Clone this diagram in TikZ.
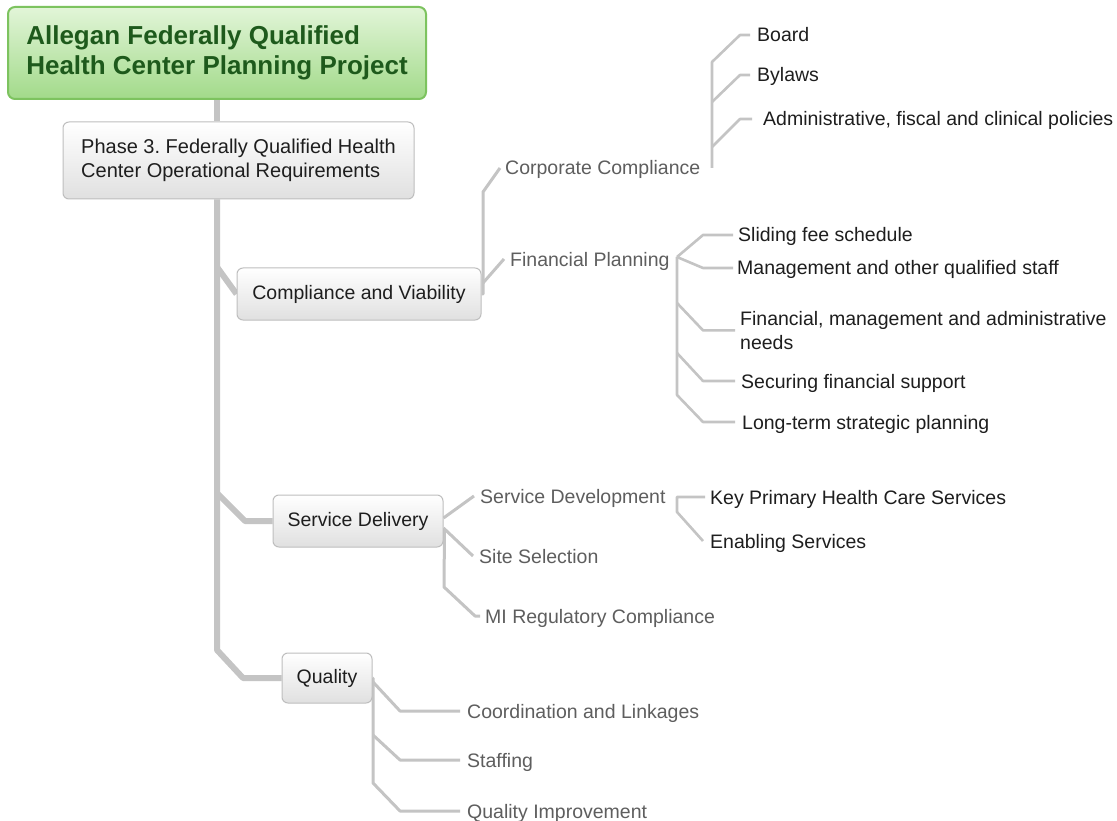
\documentclass[tikz,border=0pt]{standalone}
\usepackage{fontspec}
\setmainfont{Liberation Sans}
\usetikzlibrary{backgrounds}
\frenchspacing

\definecolor{linegray}{HTML}{C4C4C4}
\definecolor{roottop}{HTML}{E2F5D8}
\definecolor{rootbot}{HTML}{A2DA8A}
\definecolor{rootedge}{HTML}{7DC35F}
\definecolor{roottext}{HTML}{1E5A1C}
\definecolor{boxbot}{HTML}{E0E0E0}
\definecolor{boxedge}{HTML}{BEBEBE}
\definecolor{textdark}{HTML}{1E1E1E}
\definecolor{textgray}{HTML}{5E5E5E}

\begin{document}
\begin{tikzpicture}[x=1pt,y=-1pt,
  every node/.style={font=\fontsize{19.5}{24}\selectfont},
  rootbox/.style={draw=rootedge, line width=2pt, rounded corners=7pt,
    top color=roottop, bottom color=rootbot, inner sep=0pt, align=left,
    minimum width=418pt, minimum height=92pt, text=roottext,
    font=\fontsize{26}{30}\selectfont\bfseries},
  topicbox/.style={draw=boxedge, line width=1pt, rounded corners=6pt,
    top color=white, bottom color=boxbot, inner sep=0pt, text=textdark},
  sublabel/.style={inner sep=0pt, text height=14pt, text depth=0pt,
    anchor=west, text=textgray},
  leaflabel/.style={inner sep=0pt, text height=14pt, text depth=0pt,
    anchor=west, text=textdark},
  trunkline/.style={draw=linegray, line width=6pt, line join=round},
  branchline/.style={draw=linegray, line width=3pt, line join=round},
  leafline/.style={draw=linegray, line width=2.6pt, line join=round},
]
\useasboundingbox (0,0) rectangle (1117,821);

% main topics
\node[rootbox] (root) at (217,53)
  {Allegan Federally Qualified\\Health Center Planning Project};
\node[topicbox, align=left, minimum width=351pt, minimum height=77pt,
  font=\fontsize{20}{24}\selectfont] (phase) at (238.5,160.5)
  {Phase 3. Federally Qualified Health\\Center Operational Requirements};
\node[topicbox, minimum width=244pt, minimum height=52pt] (cv) at (359,294)
  {Compliance and Viability};
\node[topicbox, minimum width=170pt, minimum height=52pt] (sd) at (358,521)
  {Service Delivery};
\node[topicbox, minimum width=90pt, minimum height=50pt] (qual) at (327,678)
  {Quality};

% subtopics
\node[sublabel] (cc) at (505,168) {Corporate Compliance};
\node[sublabel] (fp) at (510,259) {Financial Planning};
\node[sublabel] (sdev) at (480,496) {Service Development};
\node[sublabel] (site) at (479,556) {Site Selection};
\node[sublabel] (mireg) at (485,616) {MI Regulatory Compliance};
\node[sublabel] (coord) at (467,711) {Coordination and Linkages};
\node[sublabel] (staff) at (467,760) {Staffing};
\node[sublabel] (qimp) at (467,811) {Quality Improvement};

% details
\node[leaflabel] (board) at (757,35) {Board};
\node[leaflabel] (bylaws) at (757,75) {Bylaws};
\node[leaflabel] (policies) at (763,119) {Administrative, fiscal and clinical policies};
\node[leaflabel] (sliding) at (738,235) {Sliding fee schedule};
\node[leaflabel] (mgmt) at (737,268) {Management and other qualified staff};
\node[inner sep=0pt, anchor=north west, align=left, text=textdark] (finneeds)
  at (740,311) {Financial, management and administrative\\needs};
\node[leaflabel] (securing) at (741,381) {Securing financial support};
\node[leaflabel] (longterm) at (742,422) {Long-term strategic planning};
\node[leaflabel] (keyphc) at (710,497) {Key Primary Health Care Services};
\node[leaflabel] (enabling) at (710,541) {Enabling Services};

\begin{scope}[on background layer]
  \fill[white] (0,0) rectangle (1117,821);

  % trunk and main branches
  \draw[trunkline] (root.south) -- (root.south |- phase.north);
  \draw[trunkline] (root.south |- phase.south) -- (217,650) -- (243,678) -- (qual.west);
  \draw[trunkline] (217,267) -- (cv.west);
  \draw[trunkline] (217,493) -- (245,521) -- (sd.west);

  % compliance and viability
  \draw[branchline] (cv.east) -| (483,192) -- ([xshift=-5pt]cc.west);
  \draw[branchline] (483,283) -- ([xshift=-6pt]fp.west);

  % corporate compliance
  \draw[leafline] (712,0 |- cc.east) -- (712,62) -- (740,0 |- board.west)
    -- ([xshift=-7pt]board.west);
  \draw[leafline] (712,102) -- (740,0 |- bylaws.west) -- ([xshift=-7pt]bylaws.west);
  \draw[leafline] (712,147) -- (740,0 |- policies.west) -- ([xshift=-11pt]policies.west);

  % financial planning
  \coordinate (fpv) at (677,257);
  \draw[leafline] (fpv) -- (703,0 |- sliding.west) -- ([xshift=-5pt]sliding.west);
  \draw[leafline] (fpv) -- (703,0 |- mgmt.west) -- ([xshift=-4pt]mgmt.west);
  \draw[leafline] (fpv) -- (fpv |- 0,395) -- (703,0 |- longterm.west)
    -- ([xshift=-7pt]longterm.west);
  \draw[leafline] (fpv |- 0,303) -- (703,0 |- finneeds.west) -- ([xshift=-5pt]finneeds.west);
  \draw[leafline] (fpv |- 0,353) -- (703,0 |- securing.west) -- ([xshift=-6pt]securing.west);

  % service delivery
  \draw[branchline] ([yshift=3pt]sd.east) -- ([xshift=-6pt]sdev.west);
  \draw[branchline] ([yshift=-7pt]sd.east) -- ([xshift=-6pt]site.west);
  \draw[branchline] ([xshift=1pt,yshift=-9pt]sd.east) -- (444,587)
    -- (475,0 |- mireg.west) -- ([xshift=-5pt]mireg.west);
  \draw[leafline] ([xshift=-5pt]keyphc.west) -| (677,512)
    -- (703,0 |- enabling.west) -- ([xshift=-7pt]enabling.west);

  % quality
  \draw[branchline] (qual.east) -| (373,783) -- (400,0 |- qimp.west)
    -- ([xshift=-7pt]qimp.west);
  \draw[branchline] (373,682) -- (400,0 |- coord.west) -- ([xshift=-7pt]coord.west);
  \draw[branchline] (373,735) -- (400,0 |- staff.west) -- ([xshift=-7pt]staff.west);
\end{scope}
\end{tikzpicture}
\end{document}
